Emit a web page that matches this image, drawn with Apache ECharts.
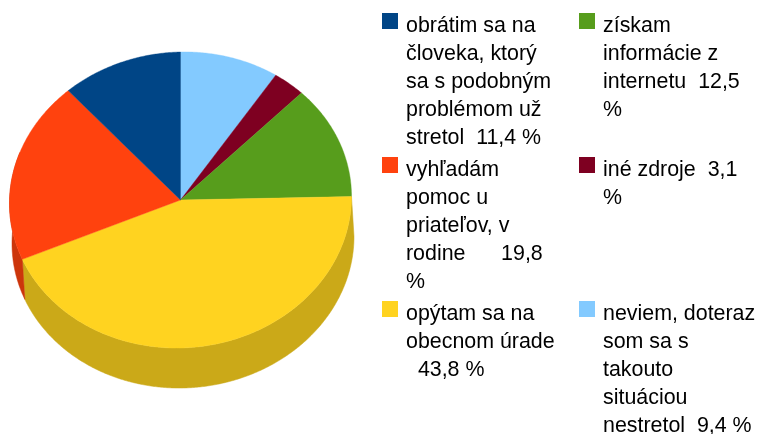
<!DOCTYPE html>
<html>
<head>
<meta charset="utf-8">
<script src="https://cdn.jsdelivr.net/npm/echarts@6/dist/echarts.min.js"></script>
<style>
  html, body { margin: 0; padding: 0; background: #fff; }
  #chart { width: 757px; height: 434px; }
</style>
</head>
<body>
<div id="chart"></div>
<script>
// clockwise from 12 o'clock
const sliceNames = ['neviem', 'iné zdroje', 'získam', 'opýtam sa', 'vyhľadám', 'obrátim sa'];
const sliceValues = [9.4, 3.1, 12.5, 43.8, 19.8, 11.4];
const sliceColors = ['#83caff', '#7e0021', '#579d1c', '#ffd320', '#ff420e', '#004586'];
const wallColors = ['#699fcc', '#65001a', '#467d16', '#cba918', '#cc350b', '#00376b'];

// legend order is the picture's, column by column
const legendTexts = [
  'obrátim sa na\nčloveka, ktorý\nsa s podobným\nproblémom už\nstretol  11,4 %',
  'vyhľadám\npomoc u\npriateľov, v\nrodine      19,8\n%',
  'opýtam sa na\nobecnom úrade\n  43,8 %',
  'získam\ninformácie z\ninternetu  12,5\n%',
  'iné zdroje  3,1\n%',
  'neviem, doteraz\nsom sa s\ntakouto\nsituáciou\nnestretol  9,4 %'
];
const legendColors = ['#004586', '#ff420e', '#ffd320', '#579d1c', '#7e0021', '#83caff'];

const cx = 180.5, cy = 200, rx = 171, ry = 148;
const depth = 40, depthDx = 2.5, tilt = 0.02;
const total = sliceValues.reduce((a, b) => a + b, 0);

function point(deg, dx, dy) {
  const a = deg * Math.PI / 180;
  const x = rx * Math.sin(a);
  return [cx + x + dx, cy - ry * Math.cos(a) - x * tilt + dy];
}

function arc(from, to, dx, dy) {
  const pts = [];
  const n = Math.max(2, Math.ceil(Math.abs(to - from) * 2));
  for (let i = 0; i <= n; i++) {
    pts.push(point(from + (to - from) * i / n, dx, dy));
  }
  return pts;
}

function sliceRange(index) {
  let sum = 0;
  for (let i = 0; i < index; i++) sum += sliceValues[i];
  return [sum / total * 360, (sum + sliceValues[index]) / total * 360];
}

function renderWall(params, api) {
  const r = sliceRange(params.dataIndex);
  const from = Math.max(r[0], 90), to = Math.min(r[1], 290);
  if (to <= from) return null;
  const points = arc(from, to, 0, 0).concat(arc(to, from, depthDx, depth));
  return {
    type: 'polygon',
    shape: { points: points },
    style: { fill: wallColors[params.dataIndex], stroke: wallColors[params.dataIndex], lineWidth: 0.5 }
  };
}

function renderTop(params, api) {
  const r = sliceRange(params.dataIndex);
  const points = [[cx, cy]].concat(arc(r[0], r[1], 0, 0));
  return {
    type: 'polygon',
    shape: { points: points },
    style: { fill: sliceColors[params.dataIndex], stroke: sliceColors[params.dataIndex], lineWidth: 0.4 }
  };
}

// legend boxes, 2 columns
const legendPos = [[382, 13], [382, 157], [382, 301], [579, 13], [579, 157], [579, 301]];
const legendGraphics = [];
legendTexts.forEach((text, i) => {
  const p = legendPos[i];
  legendGraphics.push({
    type: 'rect',
    shape: { x: p[0], y: p[1], width: 16, height: 16 },
    style: { fill: legendColors[i] }
  });
  legendGraphics.push({
    type: 'text',
    x: p[0] + 24,
    y: p[1] - 1,
    style: {
      text: text,
      fill: '#000',
      font: '21.4px "Liberation Sans", Arial, sans-serif',
      lineHeight: 28,
      textAlign: 'left',
      textVerticalAlign: 'top'
    }
  });
});

const seriesData = sliceNames.map((name, i) => ({ name: name, value: sliceValues[i] }));

const chart = echarts.init(document.getElementById('chart'), null, { renderer: 'canvas' });
chart.setOption({
  animation: false,
  backgroundColor: '#fff',
  graphic: legendGraphics,
  series: [
    { type: 'custom', coordinateSystem: 'none', renderItem: renderWall, data: seriesData, z: 1, silent: true },
    { type: 'custom', coordinateSystem: 'none', renderItem: renderTop, data: seriesData, z: 2, silent: true }
  ]
});
</script>
</body>
</html>
